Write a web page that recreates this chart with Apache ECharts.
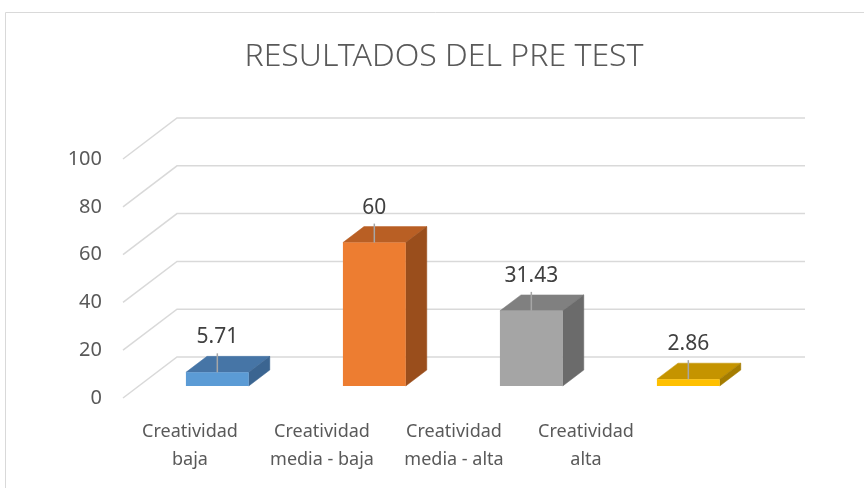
<!DOCTYPE html>
<html>
<head>
<meta charset="utf-8">
<script src="https://cdn.jsdelivr.net/npm/echarts@6/dist/echarts.min.js"></script>
<style>
  html, body { margin: 0; padding: 0; background: #fff; }
  #main { width: 864px; height: 488px; }
</style>
</head>
<body>
<div id="main"></div>
<script>
var categories = ['Creatividad\nbaja', 'Creatividad\nmedia - baja', 'Creatividad\nmedia - alta', 'Creatividad\nalta'];
var values = [5.71, 60, 31.43, 2.86];
var valueLabels = ['5.71', '60', '31.43', '2.86'];
var yTicks = [0, 20, 40, 60, 80, 100];
var frontColors = ['#5B9BD5', '#ED7D31', '#A5A5A5', '#FFC000'];
var topColors = ['#4675A6', '#B95F24', '#808080', '#C59400'];
var sideColors = ['#3B6591', '#9A4E1C', '#6B6B6B', '#A47C00'];

// oblique depth of the floor/back wall
var DX = 54, DY = -41;
var BAR_FRONT = 0.293, BAR_BACK = 0.683;

var dom = document.getElementById('main');
var myChart = echarts.init(dom);

var wallItem = function (params, api) {
    var cs = params.coordSys;
    var y = api.coord([0, api.value(1)])[1];
    return {
        type: 'polyline',
        shape: { points: [[cs.x, y], [cs.x + DX, y + DY], [cs.x + cs.width + DX, y + DY]] },
        style: { stroke: '#D9D9D9', lineWidth: 1.5, fill: null },
        silent: true
    };
};

var barItem = function (params, api) {
    var i = params.dataIndex;
    var base = api.coord([api.value(0), 0]);
    var top = api.coord([api.value(0), api.value(1)]);
    var w = api.size([1, 0])[0] * 0.4;
    var fx = base[0] + DX * BAR_FRONT, fy = base[1] + DY * BAR_FRONT;
    var ty = top[1] + DY * BAR_FRONT;
    var dx = DX * (BAR_BACK - BAR_FRONT), dy = DY * (BAR_BACK - BAR_FRONT);
    var x0 = fx - w / 2, x1 = fx + w / 2;
    return {
        type: 'group',
        children: [
            { type: 'polygon', shape: { points: [[x0, ty], [x1, ty], [x1 + dx, ty + dy], [x0 + dx, ty + dy]] },
              style: { fill: topColors[i], stroke: topColors[i], lineWidth: 0.5 } },
            { type: 'polygon', shape: { points: [[x1, ty], [x1 + dx, ty + dy], [x1 + dx, fy + dy], [x1, fy]] },
              style: { fill: sideColors[i], stroke: sideColors[i], lineWidth: 0.5 } },
            { type: 'rect', shape: { x: x0, y: ty, width: w, height: fy - ty },
              style: { fill: frontColors[i] } },
            { type: 'line', shape: { x1: fx, y1: ty, x2: fx, y2: ty + dy - 3 },
              style: { stroke: '#A6A6A6', lineWidth: 1.5 } },
            { type: 'text', x: fx, y: ty + dy - 19,
              style: { text: valueLabels[i], fill: '#404040', font: '21px "Noto Sans"',
                       align: 'center', verticalAlign: 'middle' } }
        ]
    };
};

// category names under the floor, one centred text per line
var catLabelItem = function (params, api) {
    var cs = params.coordSys;
    var p = api.coord([api.value(0), 0]);
    var lines = categories[params.dataIndex].split('\n');
    return {
        type: 'group',
        children: lines.map(function (t, k) {
            return {
                type: 'text', x: p[0], y: cs.y + cs.height + 22 + k * 28,
                style: { text: t, fill: '#595959', font: '18px "Noto Sans"',
                         align: 'center', verticalAlign: 'middle' }
            };
        })
    };
};

var option = {
    animation: false,
    backgroundColor: '#ffffff',
    graphic: [
        { type: 'rect', shape: { x: 5.5, y: 12.5, width: 900, height: 500 },
          style: { fill: null, stroke: '#D9D9D9', lineWidth: 1 }, z: -1 },
        { type: 'text', x: 444, y: 57,
          style: { text: 'RESULTADOS DEL PRE TEST', fill: '#595959', font: '300 32px "Noto Sans"',
                   align: 'center', verticalAlign: 'middle' } }
    ],
    grid: [
        { left: 123, top: 159, width: 628, height: 239 },
        { left: 124, top: 159, width: 528, height: 251 }
    ],
    xAxis: [
        { type: 'category', gridIndex: 0, data: categories, show: false },
        { type: 'category', gridIndex: 1, data: categories, show: false }
    ],
    yAxis: [
        { type: 'value', gridIndex: 0, min: 0, max: 100, interval: 20,
          axisLine: { show: false }, axisTick: { show: false }, splitLine: { show: false },
          axisLabel: { color: '#595959', fontSize: 20, fontFamily: 'Noto Sans', margin: 21 } },
        { type: 'value', gridIndex: 1, show: false, min: 0, max: 100 }
    ],
    series: [
        { type: 'custom', xAxisIndex: 0, yAxisIndex: 0, renderItem: wallItem,
          data: yTicks.map(function (v) { return [0, v]; }) },
        { type: 'custom', xAxisIndex: 0, yAxisIndex: 0, renderItem: barItem,
          data: values.map(function (v, i) { return [i, v]; }) },
        { type: 'custom', xAxisIndex: 1, yAxisIndex: 1, renderItem: catLabelItem,
          data: categories.map(function (c, i) { return [i, 0]; }) }
    ]
};

myChart.setOption(option, true);
</script>
</body>
</html>
